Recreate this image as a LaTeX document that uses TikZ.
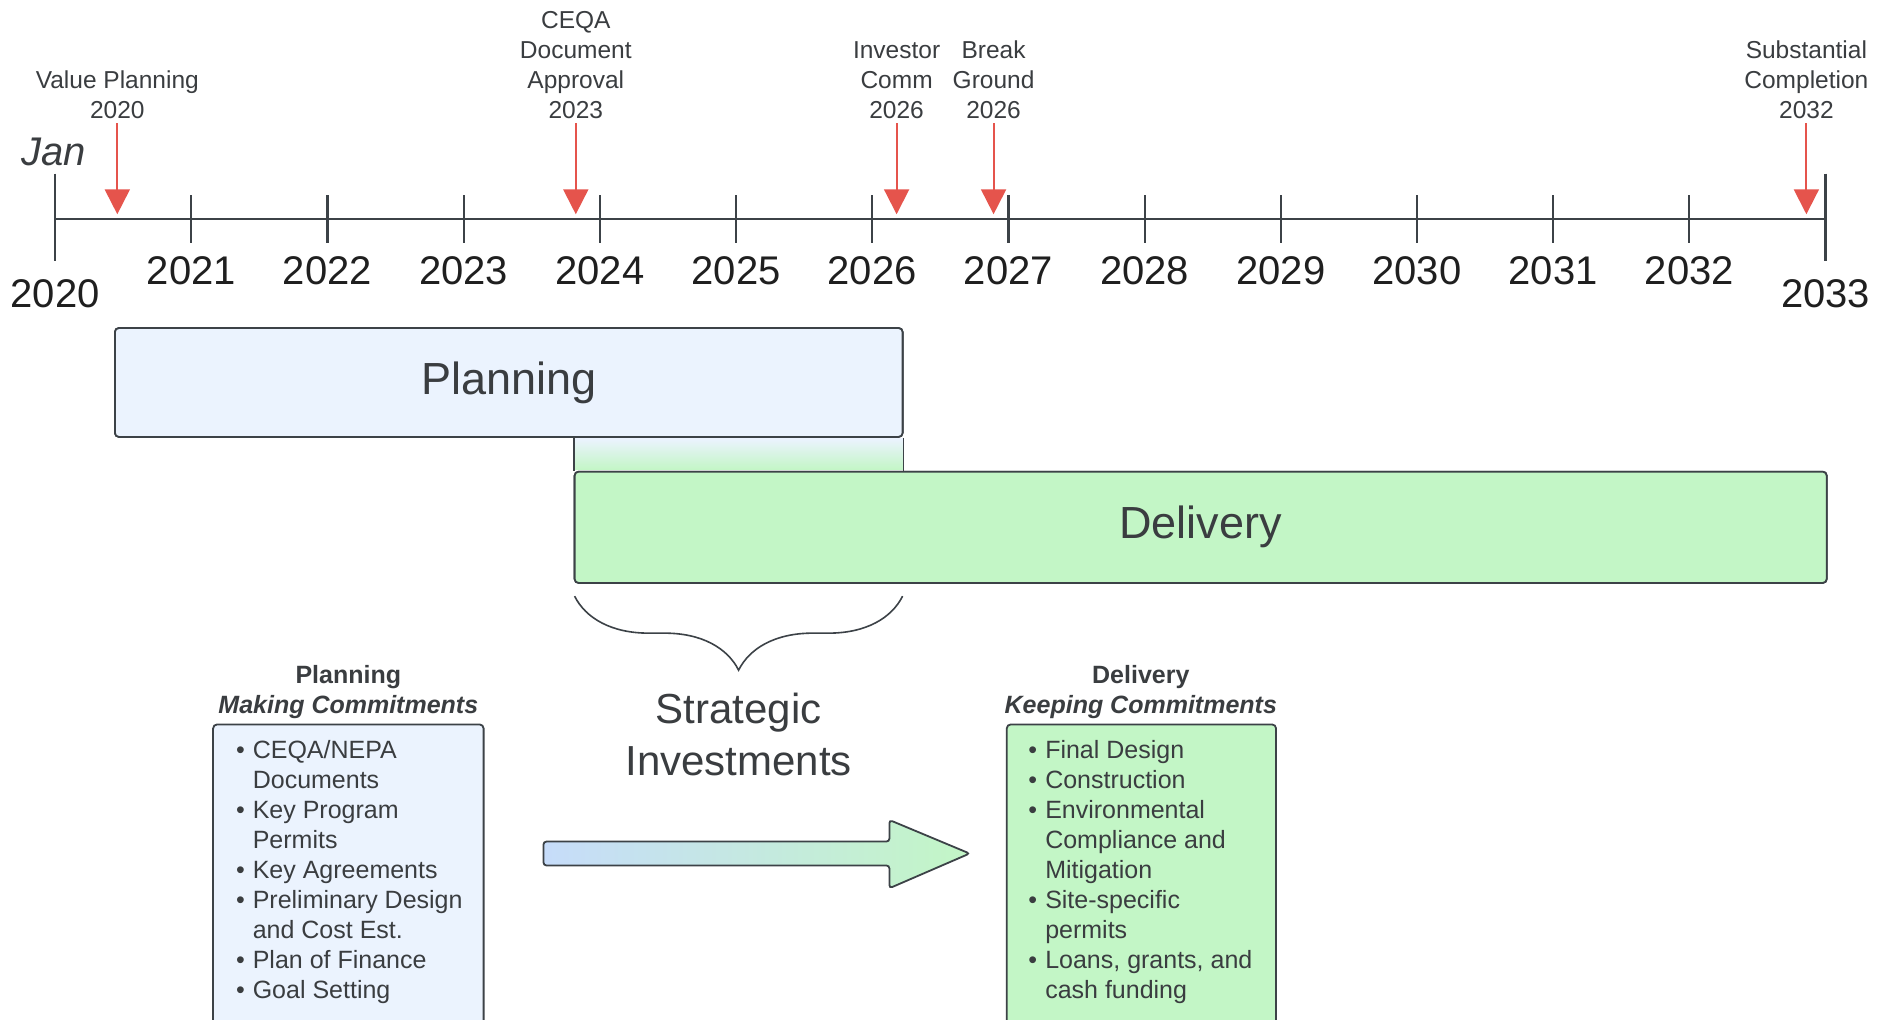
\documentclass[tikz,border=0pt]{standalone}
\usepackage{fontspec}
\setmainfont{Liberation Sans}
\usetikzlibrary{arrows.meta,decorations.pathreplacing}
\definecolor{txt}{HTML}{3A3D40}
\definecolor{axiscol}{HTML}{3C4247}
\definecolor{mred}{HTML}{E5544C}
\definecolor{planfill}{HTML}{EBF3FE}
\definecolor{delfill}{HTML}{C3F6C6}
\definecolor{arrblue}{HTML}{C6DCFA}
\newcommand{\fs}[2]{\fontsize{#1}{#2}\selectfont}
\newcommand{\bul}{\makebox[16.8pt][l]{\textbullet}}
\newcommand{\ind}{\hspace*{16.8pt}}
\begin{document}
\begin{tikzpicture}[x=1.19707pt,y=-1.19707pt,
  axisline/.style={draw=axiscol, line width=2.2pt},
  yearlbl/.style={font=\fs{40}{44}, text=black!88, inner sep=0pt},
  mslbl/.style={font=\fs{24.5}{30}, text=txt, align=center, inner sep=0pt},
  msarrow/.style={draw=mred, line width=2pt, shorten <=4pt, -{Triangle[length=25pt,width=25pt]}},
  bar/.style={draw=axiscol, line width=1.8pt, rounded corners=4pt, font=\fs{45}{50}, text=txt},
  thinline/.style={draw=axiscol, line width=1.6pt},
  listbox/.style={draw=axiscol, line width=1.8pt, rounded corners=4pt},
  listtext/.style={font=\fs{25}{30}, text=txt, align=left, inner sep=0pt, anchor=north west},
  headtext/.style={font=\fs{25}{30}\bfseries, text=txt, align=center, inner sep=0pt}
]
\clip (0,0) rectangle (1568,852);
\fill[white] (0,0) rectangle (1568,852);

% timeline axis
\coordinate (a0) at (46,183);
\coordinate (a13) at (1525,183);
\draw[axisline] (a0) -- (a13);
\draw[axisline] (46,145) -- (46,218);
\draw[axisline] (1525,145) -- (1525,218);
\node[yearlbl] (y2020) at (46,245) {2020};
\node[yearlbl] (y2033) at (1525,245) {2033};
\node[font=\fs{40}{44}\itshape, text=txt, inner sep=0pt] (jan) at (45,127) {Jan};
\foreach \i/\yr in {1/2021,2/2022,3/2023,4/2024,5/2025,6/2026,7/2027,8/2028,9/2029,10/2030,11/2031,12/2032}{
  \draw[axisline] ({46+\i*113.77},163) -- ++(0,40);
  \node[yearlbl] (y\yr) at ({46+\i*113.77},226) {\yr};
}

% milestones
\foreach \x/\nm/\lbl in {98/m1/{Value Planning\\2020}, 481/m2/{CEQA\\Document\\Approval\\2023}, 749/m3/{Investor\\Comm\\2026}, 830/m4/{Break\\Ground\\2026}, 1509/m5/{Substantial\\Completion\\2032}}{
  \node[mslbl, anchor=south] (\nm) at (\x,99.5) {\lbl};
  \coordinate (\nm t) at (\x,179);
  \draw[msarrow] (\nm) -- (\nm t);
}

% phase bars
\node[bar, fill=planfill, minimum width=787.7pt, minimum height=108.9pt] (plan) at (425,319.5) {Planning};
\node[bar, fill=delfill, minimum width=1252.1pt, minimum height=111.3pt] (deliv) at (1003,440.5) {Delivery};
\shade[top color=planfill, bottom color=delfill] ([yshift=-1pt]plan.south -| deliv.north west) rectangle ([yshift=1pt]deliv.north -| plan.south east);
\draw[thinline] (deliv.north west |- plan.south) -- (deliv.north west);
\draw[thinline] (plan.south east) -- (plan.south east |- deliv.north);
\node[bar, fill=planfill, minimum width=787.7pt, minimum height=108.9pt] at (plan) {Planning};
\node[bar, fill=delfill, minimum width=1252.1pt, minimum height=111.3pt] at (deliv) {Delivery};

% brace
\coordinate (bl) at (480,498);
\coordinate (br) at (754,498);
\draw[thinline, decorate, decoration={brace, mirror, amplitude=74pt}] (bl) -- (br);
\node[font=\fs{42}{51.5}, text=txt, align=center, inner sep=0pt] (strat) at (617,613.5) {Strategic\\Investments};

% detail boxes
\node[headtext] (phead) at (291,578.5) {Planning\\\itshape Making Commitments};
\node[headtext] (dhead) at (953,578.5) {Delivery\\\itshape Keeping Commitments};
\node[listbox, fill=planfill, minimum width=270.5pt, minimum height=330pt] (pbox) at (291,743) {};
\node[listbox, fill=delfill, minimum width=269.3pt, minimum height=330pt] (dbox) at (953.5,743) {};
\node[listtext] (plist) at (197,618) {\bul CEQA/NEPA\\\ind Documents\\\bul Key Program\\\ind Permits\\\bul Key Agreements\\\bul Preliminary Design\\\ind and Cost Est.\\\bul Plan of Finance\\\bul Goal Setting};
\node[listtext] (dlist) at (859,618) {\bul Final Design\\\bul Construction\\\bul Environmental\\\ind Compliance and\\\ind Mitigation\\\bul Site-specific\\\ind permits\\\bul Loans, grants, and\\\ind cash funding};

% big arrow
\draw[draw=axiscol, line width=1.8pt, rounded corners=3pt, left color=arrblue, middle color=white, right color=delfill]
  (454,703) -- (743,703) -- (743,685) -- (810,713) -- (743,742) -- (743,723) -- (454,723) -- cycle;
\end{tikzpicture}
\end{document}
